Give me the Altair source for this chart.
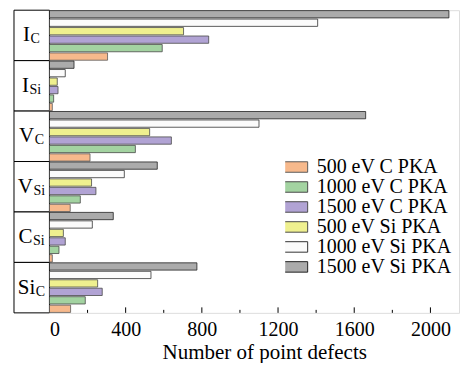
import altair as alt
import pandas as pd

# ---- data ----
categories = ["I_C", "I_Si", "V_C", "V_Si", "C_Si", "Si_C"]
cat_main = ["I", "I", "V", "V", "C", "Si"]
cat_sub = ["C", "Si", "C", "Si", "Si", "C"]

series = ["500 eV C PKA", "1000 eV C PKA", "1500 eV C PKA",
          "500 eV Si PKA", "1000 eV Si PKA", "1500 eV Si PKA"]
vals_500_C = [305, 15, 213, 109, 15, 111]
vals_1000_C = [592, 22, 451, 162, 50, 188]
vals_1500_C = [836, 45, 640, 244, 83, 277]
vals_500_Si = [704, 41, 526, 221, 73, 253]
vals_1000_Si = [1408, 83, 1100, 393, 225, 533]
vals_1500_Si = [2097, 129, 1660, 566, 335, 774]

major_ticks = [400, 800, 1200, 1600, 2000]
minor_ticks = [200, 600, 1000, 1400, 1800]
label_ticks = [0, 400, 800, 1200, 1600, 2000]

colors = ["#F7B98C", "#A3D3A1", "#B1A3D4", "#EFF08F", "#FBFBFB", "#ABABAB"]
strokes = ["#5a5a5a", "#4a4a4a", "#4a4a4a", "#4a4a4a", "#333333", "#222222"]

all_vals = [vals_500_C, vals_1000_C, vals_1500_C, vals_500_Si, vals_1000_Si, vals_1500_Si]
rows = []
for s, vs in zip(series, all_vals):
    for c, v in zip(categories, vs):
        rows.append({"cat": c, "series": s, "value": v})
df = pd.DataFrame(rows)

# label panel layout (approximate Times widths to centre main+subscript)
W = 410
H = 303
panel_w = 35.5
main_fs = 21
sub_fs = 14
cw = {"I": 0.333, "V": 0.722, "C": 0.667, "S": 0.556, "i": 0.278}
lab_rows = []
for c, m, s in zip(categories, cat_main, cat_sub):
    mw = sum(cw[ch] for ch in m) * main_fs
    sw = sum(cw[ch] for ch in s) * sub_fs
    centre = -panel_w / 2 - 0.5
    split = centre - (mw + sw) / 2 + mw
    lab_rows.append({"cat": c, "main": m, "sub": s, "sx": split, "sx2": split + 0.5})
lab = pd.DataFrame(lab_rows)

FONT = "Liberation Serif"

yscale = alt.Scale(domain=categories, paddingInner=0, paddingOuter=0)
xscale = alt.Scale(domain=[0, 2150], nice=False)

bars = alt.Chart(df).mark_bar(strokeWidth=0.8).encode(
    y=alt.Y("cat:N", scale=yscale, axis=None, sort=categories),
    yOffset=alt.YOffset("series:N", sort=list(reversed(series)),
                        scale=alt.Scale(paddingInner=0.14, paddingOuter=0.05)),
    x=alt.X("value:Q", scale=xscale,
            axis=alt.Axis(values=label_ticks, format="d", grid=False, ticks=False,
                          domain=False, labelFont=FONT, labelFontSize=20,
                          labelColor="black", labelPadding=7,
                          title="Number of point defects",
                          titleFont=FONT, titleFontSize=21, titleFontWeight="normal",
                          titleColor="black", titlePadding=2, titleX=215)),
    color=alt.Color("series:N", sort=series,
                    scale=alt.Scale(domain=series, range=colors),
                    legend=alt.Legend(title=None, orient="none", legendX=236, legendY=147,
                                      symbolType="M-2.5,-1.05H2.5V1.05H-2.5Z",
                                      symbolSize=100, symbolStrokeColor="#555555",
                                      symbolStrokeWidth=1, labelFont=FONT,
                                      labelFontSize=20, labelColor="black",
                                      labelOffset=11.5, clipHeight=20, rowPadding=0,
                                      padding=0, symbolOpacity=1)),
    stroke=alt.Stroke("series:N", sort=series,
                      scale=alt.Scale(domain=series, range=strokes), legend=None),
)

panel_df = pd.DataFrame({"cat": categories})
panel = alt.Chart(panel_df).mark_rect(fill="white", stroke="black", strokeWidth=1).encode(
    y=alt.Y("cat:N", scale=yscale, axis=None, sort=categories),
    x=alt.value(-panel_w),
    x2=alt.value(0),
)

main_txt = alt.Chart(lab).mark_text(font=FONT, fontSize=main_fs, align="right",
                                    baseline="alphabetic", dy=6, color="black").encode(
    y=alt.Y("cat:N", scale=yscale, axis=None, sort=categories),
    x=alt.X("sx:Q", scale=None),
    text="main:N",
)
sub_txt = alt.Chart(lab).mark_text(font=FONT, fontSize=sub_fs, align="left",
                                   baseline="alphabetic", dy=8, color="black").encode(
    y=alt.Y("cat:N", scale=yscale, axis=None, sort=categories),
    x=alt.X("sx2:Q", scale=None),
    text="sub:N",
)

maj_df = pd.DataFrame({"t": major_ticks})
min_df = pd.DataFrame({"t": minor_ticks})
maj = alt.Chart(maj_df).mark_rule(color="black", strokeWidth=1).encode(
    x=alt.X("t:Q", scale=xscale), y=alt.value(H), y2=alt.value(H - 5.5))
mnr = alt.Chart(min_df).mark_rule(color="black", strokeWidth=1).encode(
    x=alt.X("t:Q", scale=xscale), y=alt.value(H), y2=alt.value(H - 3))

chart = alt.layer(panel, bars, main_txt, sub_txt, maj, mnr).properties(
    width=W, height=H,
    autosize=alt.AutoSizeParams(type="none"),
    padding={"left": 41.5, "top": 2, "right": 2, "bottom": 50},
).configure_view(stroke="black", strokeWidth=1).configure(background="white")

chart.save("out.html", embed_options={"renderer": "svg", "actions": False})
